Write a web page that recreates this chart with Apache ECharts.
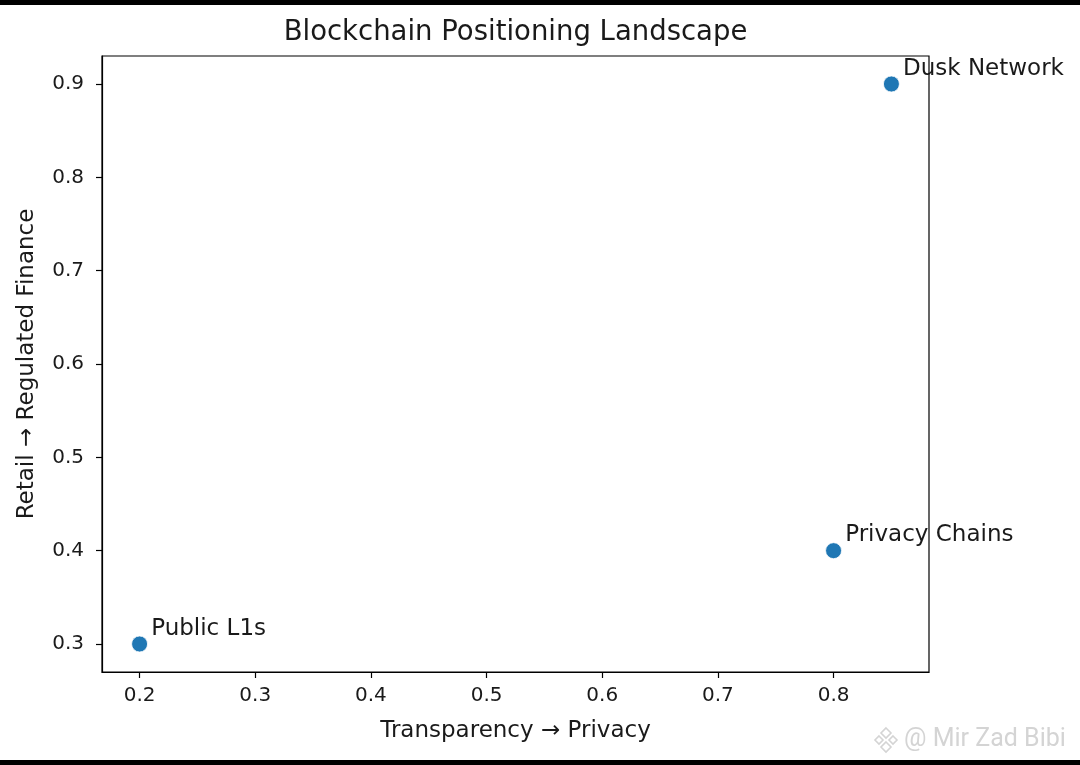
<!DOCTYPE html>
<html>
<head>
<meta charset="utf-8">
<script src="https://cdn.jsdelivr.net/npm/echarts@6/dist/echarts.min.js"></script>
<style>
html,body{margin:0;padding:0;background:#fff;}
#chart{width:1080px;height:765px;}
</style>
</head>
<body>
<div id="chart"></div>
<script>
const names = ["Public L1s", "Privacy Chains", "Dusk Network"];
const xValues = [0.2, 0.8, 0.85];
const yValues = [0.3, 0.4, 0.9];
const xTicks = [0.2, 0.3, 0.4, 0.5, 0.6, 0.7, 0.8];
const yTicks = [0.3, 0.4, 0.5, 0.6, 0.7, 0.8, 0.9];
const titleText = "Blockchain Positioning Landscape";
const xLabel = "Transparency → Privacy";
const yLabel = "Retail → Regulated Finance";
const watermark = "@ Mir Zad Bibi";

const FONT = "DejaVu Sans";
const points = names.map((n, i) => ({ value: [xValues[i], yValues[i]], name: n }));

const chart = echarts.init(document.getElementById('chart'), null, { renderer: 'canvas' });
chart.setOption({
  backgroundColor: '#fff',
  animation: false,
  grid: { left: 102, right: 151, top: 56, bottom: 93, show: true, borderColor: '#000', borderWidth: 1.2, backgroundColor: 'transparent' },
  graphic: [
    { type: 'rect', shape: { x: 0, y: 0, width: 1080, height: 5 }, style: { fill: '#000' } },
    { type: 'rect', shape: { x: 0, y: 760, width: 1080, height: 5 }, style: { fill: '#000' } },
    { type: 'text', x: 515.5, y: 33, style: { text: titleText, font: '27.5px "DejaVu Sans"', fill: '#1a1a1a', textAlign: 'center', textVerticalAlign: 'middle' } },
    { type: 'text', x: 904, y: 740, style: { text: watermark, font: '25px Roboto', fill: '#d4d4d4', textAlign: 'left', textVerticalAlign: 'middle' } },
    { type: 'group', x: 886, y: 740, children: [
      { type: 'polygon', shape: { points: [[0,-12],[5,-7],[0,-2],[-5,-7]] }, style: { fill: 'none', stroke: '#d4d4d4', lineWidth: 1.6 } },
      { type: 'polygon', shape: { points: [[-7,-4],[-3,0],[-7,4],[-11,0]] }, style: { fill: 'none', stroke: '#d4d4d4', lineWidth: 1.6 } },
      { type: 'polygon', shape: { points: [[7,-4],[11,0],[7,4],[3,0]] }, style: { fill: 'none', stroke: '#d4d4d4', lineWidth: 1.6 } },
      { type: 'polygon', shape: { points: [[0,2],[5,7],[0,12],[-5,7]] }, style: { fill: 'none', stroke: '#d4d4d4', lineWidth: 1.6 } }
    ] }
  ],
  xAxis: {
    type: 'value', min: 0.1675, max: 0.8825,
    name: xLabel, nameLocation: 'middle', nameGap: 48,
    nameTextStyle: { fontFamily: FONT, fontSize: 23, color: '#1a1a1a' },
    splitLine: { show: false },
    axisLine: { show: true, lineStyle: { color: '#000', width: 1.2 } },
    axisTick: { show: true, inside: false, length: 6, customValues: xTicks, lineStyle: { color: '#000', width: 1.2 } },
    axisLabel: { customValues: xTicks, margin: 14, fontFamily: FONT, fontSize: 20, color: '#1a1a1a', formatter: v => v.toFixed(1) }
  },
  yAxis: {
    type: 'value', min: 0.27, max: 0.93,
    name: yLabel, nameLocation: 'middle', nameGap: 63, nameRotate: 90,
    nameTextStyle: { fontFamily: FONT, fontSize: 23, color: '#1a1a1a' },
    splitLine: { show: false },
    axisLine: { show: true, lineStyle: { color: '#000', width: 1.2 } },
    axisTick: { show: true, inside: false, length: 6, customValues: yTicks, lineStyle: { color: '#000', width: 1.2 } },
    axisLabel: { customValues: yTicks, margin: 18, fontFamily: FONT, fontSize: 20, color: '#1a1a1a', formatter: v => v.toFixed(1) }
  },
  series: [{
    type: 'scatter',
    data: points,
    symbolSize: 16,
    itemStyle: { color: '#1f77b4', borderColor: '#ffffff', borderWidth: 0.8, opacity: 1 },
    label: {
      show: true, formatter: p => p.name,
      position: [20, -7], align: 'left', verticalAlign: 'middle',
      fontFamily: FONT, fontSize: 23, color: '#1a1a1a'
    },
    labelLayout: { hideOverlap: false },
    clip: false
  }]
});
</script>
</body>
</html>
